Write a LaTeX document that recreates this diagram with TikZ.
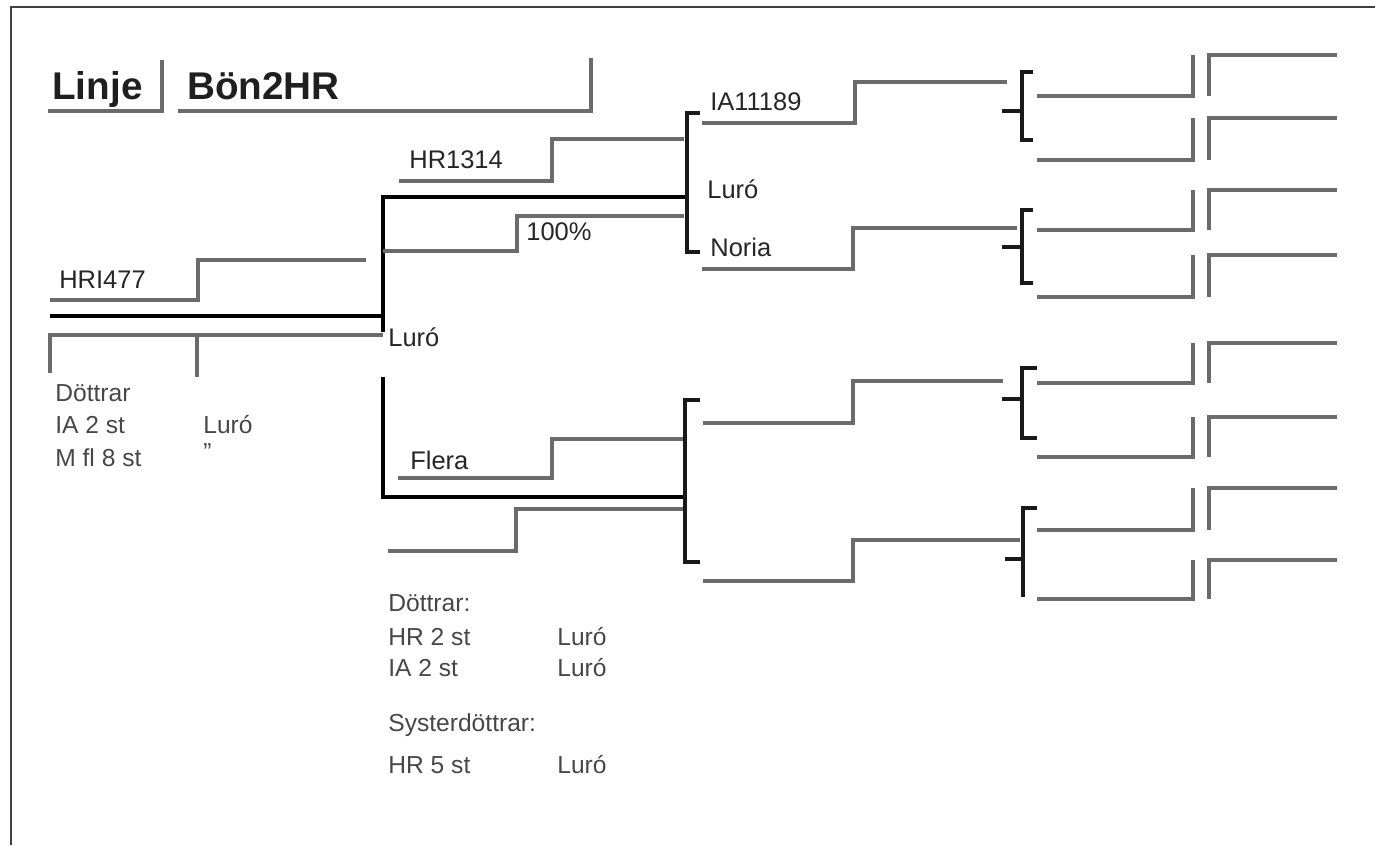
\documentclass[tikz,border=0pt]{standalone}
\usepackage{fontspec}
\setmainfont{Liberation Sans}
\usetikzlibrary{positioning,calc}

\begin{document}
\begin{tikzpicture}[
    x=0.02cm, y=-0.02cm,
    frame/.style={draw=black!75, line width=0.8pt},
    gline/.style={draw=black!58, line width=1.8pt},
    heavy/.style={draw=black, line width=2.8pt},
    brk/.style={draw=black!90, line width=2.2pt},
    title/.style={font=\fontsize{22}{26}\selectfont\bfseries, text=black!88, inner sep=0pt, anchor=base west},
    lbl/.style={font=\fontsize{14.5}{17}\selectfont, text=black!85, inner sep=0pt, anchor=west},
    note/.style={font=\fontsize{14}{17}\selectfont, text=black!72, inner sep=0pt, anchor=west}
]
\useasboundingbox (0,0) rectangle (1375,845);
\draw[frame] (11,845) -- (11,7) -- (1375,7);

% title
\node[title] (linje) at (52,99) {Linje};
\node[title] (line) at (187,99) {Bön2HR};
\draw[gline] (48,111) -- (162,111) -- (162,60);
\draw[gline] (178,111) -- (591,111) -- (591,58);

% junction points
\coordinate (root) at (383,316);
\coordinate (sire) at (687,197);
\coordinate (dam) at (685,497);

% generation 1
\node[lbl] (hr1477) at (59,280) {HRI477};
\draw[gline] (50,300) -- (198,300) -- (198,260) -- (366,260);
\draw[heavy] (50,316) -- (root);
\draw[heavy] (383,332) -- (383,197) -- (sire);
\draw[heavy] (383,377) -- (383,497) -- (dam);
\draw[gline] (50,373) -- (50,335) -- (383,335);
\draw[gline] (197,335) -- (197,377);
\node[lbl] (luro0) at (388,337) {Luró};

\node[note] (dot0) at (55,393) {Döttrar};
\node[note] (dot0a) at (55,425) {IA 2 st};
\node[note] (dot0b) at (55,458) {M fl 8 st};
\node[note] (dot0c) at (203,425) {Luró};
\node[note] (dot0d) at (203,452) {"};

% generation 2, sire side
\node[lbl] (hr1314) at (409,160) {HR1314};
\draw[gline] (399,181) -- (552,181) -- (552,139) -- (684,139);
\node[lbl] (pct) at (526,232) {100\%};
\draw[gline] (383,251) -- (517,251) -- (517,216) -- (684,216);
\draw[brk] (700,113) -- (687,113) -- (687,252) -- (700,252);
\node[lbl] (luro1) at (707,189) {Luró};

% generation 2, dam side
\node[lbl] (flera) at (410,460) {Flera};
\draw[gline] (398,478) -- (552,478) -- (552,439) -- (685,439);
\draw[gline] (388,551) -- (516,551) -- (516,509) -- (685,509);
\draw[brk] (700,400) -- (685,400) -- (685,562) -- (700,562);

\node[note] (dot1) at (388,603) {Döttrar:};
\node[note] (dot1a) at (388,637) {HR 2 st};
\node[note] (dot1b) at (388,668) {IA 2 st};
\node[note] (sys1) at (388,725) {Systerdöttrar:};
\node[note] (sys1a) at (388,765) {HR 5 st};
\node[note] (dot1c) at (557,637) {Luró};
\node[note] (dot1d) at (557,668) {Luró};
\node[note] (sys1b) at (557,765) {Luró};

% generation 3
\node[lbl] (ia11189) at (710,102) {IA11189};
\draw[gline] (702,123) -- (855,123) -- (855,82) -- (1007,82);
\node[lbl] (noria) at (710,247) {Noria};
\draw[gline] (702,269) -- (853,269) -- (853,228) -- (1017,228);
\draw[gline] (703,423) -- (853,423) -- (853,381) -- (1003,381);
\draw[gline] (703,581) -- (853,581) -- (853,540) -- (1020,540);

% brackets of generation 4
\draw[brk] (1033,72) -- (1022,72) -- (1022,140) -- (1033,140);
\draw[brk] (1002,111) -- (1022,111);
\draw[brk] (1033,210) -- (1022,210) -- (1022,283) -- (1033,283);
\draw[brk] (1002,247) -- (1022,247);
\draw[brk] (1037,368) -- (1022,368) -- (1022,438) -- (1037,438);
\draw[brk] (1002,399) -- (1022,399);
\draw[brk] (1037,508) -- (1023,508) -- (1023,597);
\draw[brk] (1005,559) -- (1023,559);

% generations 4 and 5
\foreach \yl/\yt in {96/55, 160/118, 230/190, 297/255, 383/343, 457/417, 530/488, 599/560} {
    \draw[gline] (1037,\yl) -- (1193,\yl) -- (1193,\yt);
    \draw[gline] (1209,\yl) -- (1209,\yt) -- (1337,\yt);
}
\end{tikzpicture}
\end{document}
